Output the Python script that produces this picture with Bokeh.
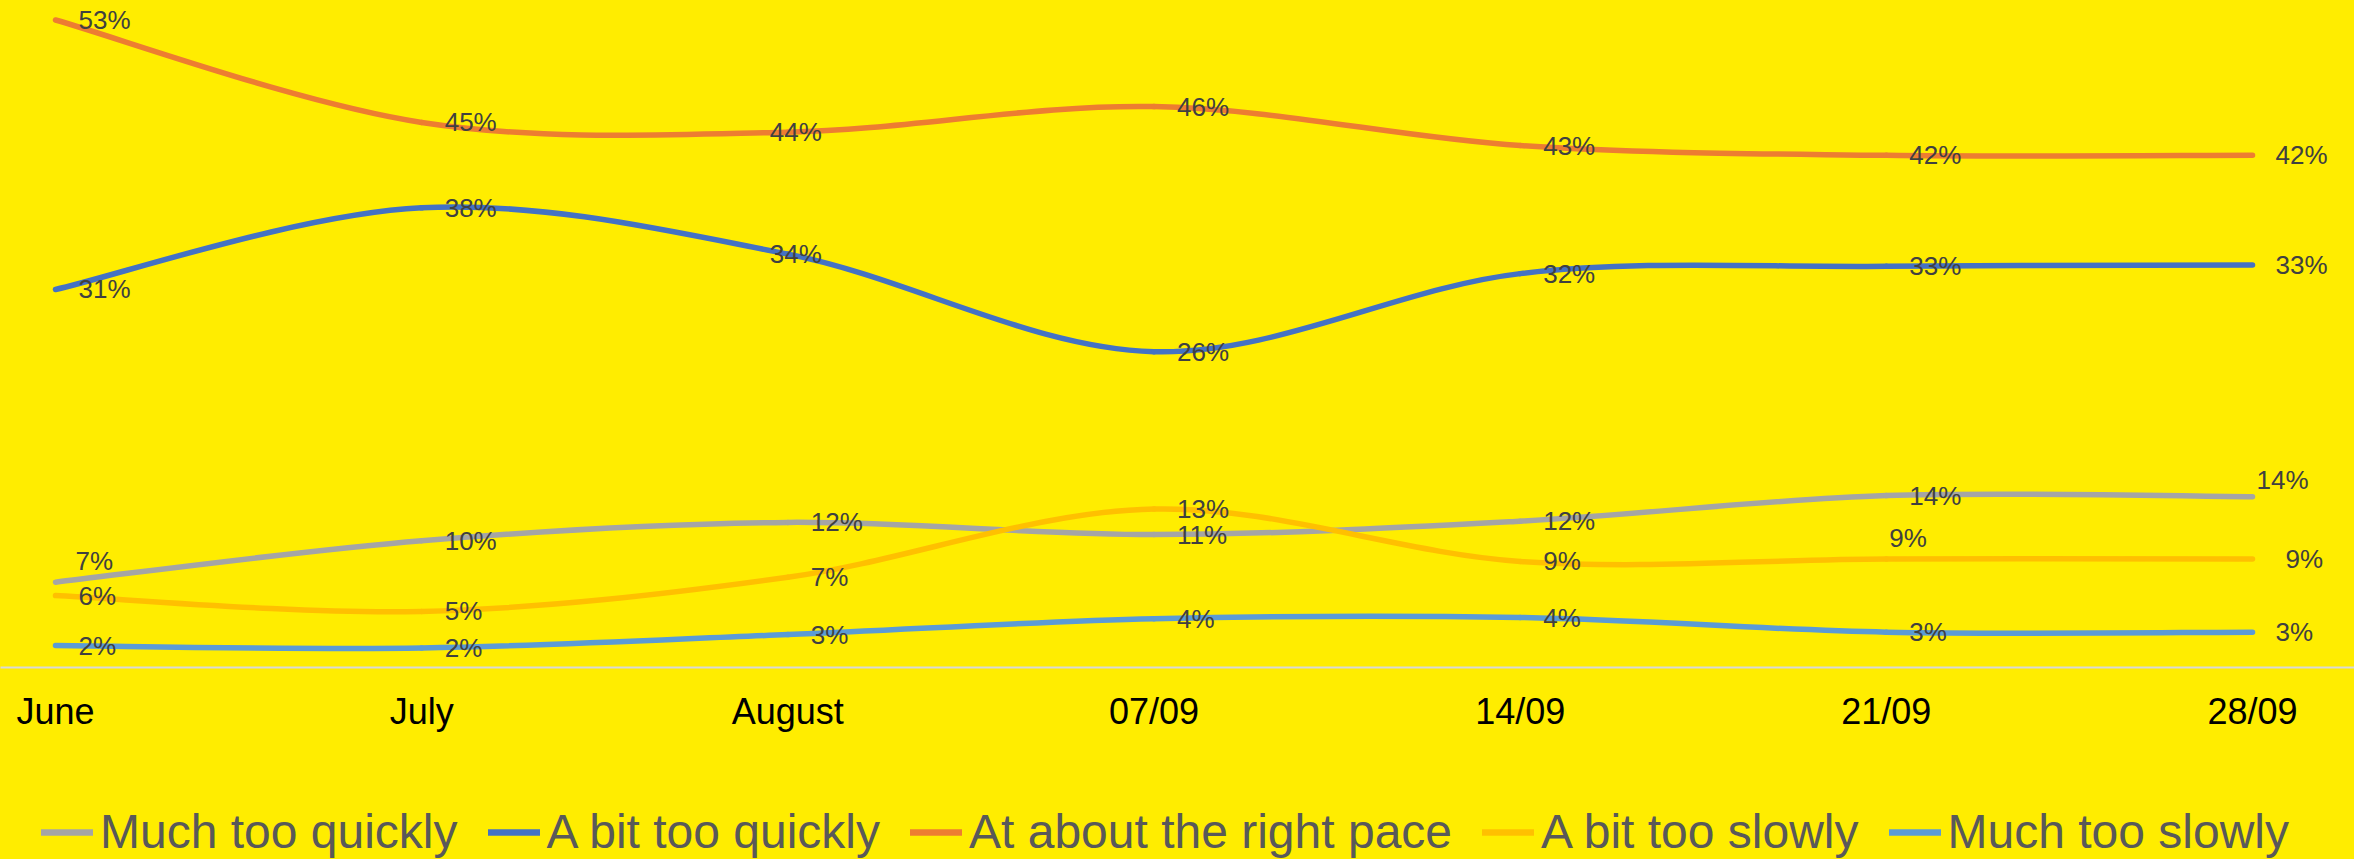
from bokeh.plotting import figure
from bokeh.layouts import column
from bokeh.models import Range1d, FixedTicker, Legend, LegendItem, ColumnDataSource
from bokeh.core.properties import value
from bokeh.embed import file_html
from bokeh.resources import INLINE

# ---------------- data ----------------
periods = ["June", "July", "August", "07/09", "14/09", "21/09", "28/09"]

much_too_quickly = [7.0, 10.4, 11.9, 10.9, 12.0, 14.1, 14.0]
a_bit_too_quickly = [31.0, 37.7, 33.9, 25.9, 32.3, 32.9, 33.0]
about_right_pace = [53.1, 44.7, 43.9, 46.0, 42.8, 42.0, 42.0]
a_bit_too_slowly = [5.9, 4.6, 7.4, 13.0, 8.7, 8.9, 8.9]
much_too_slowly = [1.8, 1.6, 2.7, 4.0, 4.1, 2.9, 2.9]

series_names = ["Much too quickly", "A bit too quickly", "At about the right pace",
                "A bit too slowly", "Much too slowly"]
series_values = [much_too_quickly, a_bit_too_quickly, about_right_pace,
                 a_bit_too_slowly, much_too_slowly]

# ---------------- style ----------------
colors = ["#A5A5A5", "#4472C4", "#ED7D31", "#FFC000", "#5B9BD5"]
BG = "#FFED00"
FONT = "Liberation Sans"
LW = 5.5

# label placement nudges (screen px) : default is right of the point
DEFAULT_NUDGE = (23, 0)
label_nudges = {
    (2, 2): (-18, 0),
    (1, 2): (-18, 0),
    (0, 0): (20, -21),
    (0, 6): (4, -17),
    (3, 5): (3, -21),
    (3, 6): (33, 0),
}

W = 2354
AXIS_H = 66
p = figure(width=W, height=668 + AXIS_H, output_backend="svg", toolbar_location=None,
           x_range=Range1d(-0.1502, 6.2785), y_range=Range1d(0, 54.7),
           y_axis_location=None,
           min_border_left=0, min_border_right=0, min_border_top=0,
           min_border_bottom=AXIS_H,
           background_fill_color=BG, border_fill_color=BG, outline_line_color=None)
p.grid.visible = False

xa = p.xaxis[0]
xa.ticker = FixedTicker(ticks=list(range(len(periods))))
xa.major_label_overrides = {i: lab for i, lab in enumerate(periods)}
xa.axis_line_color = "#D9D9D9"
xa.axis_line_width = 2
xa.major_tick_line_color = None
xa.minor_tick_line_color = None
xa.major_tick_out = 0
xa.major_tick_in = 0
xa.major_label_standoff = 23
xa.major_label_text_font = FONT
xa.major_label_text_font_size = "36px"
xa.major_label_text_color = "#000000"


def bezier_segments(ys):
    n = len(ys)
    xs = list(range(n))
    seg = dict(x0=[], y0=[], x1=[], y1=[], cx0=[], cy0=[], cx1=[], cy1=[])
    for i in range(n - 1):
        im1 = max(i - 1, 0)
        ip2 = min(i + 2, n - 1)
        seg["x0"].append(xs[i]); seg["y0"].append(ys[i])
        seg["x1"].append(xs[i + 1]); seg["y1"].append(ys[i + 1])
        seg["cx0"].append(xs[i] + (xs[i + 1] - xs[im1]) / 6)
        seg["cy0"].append(ys[i] + (ys[i + 1] - ys[im1]) / 6)
        seg["cx1"].append(xs[i + 1] - (xs[ip2] - xs[i]) / 6)
        seg["cy1"].append(ys[i + 1] - (ys[ip2] - ys[i]) / 6)
    return seg


for s, (name, vals, col) in enumerate(zip(series_names, series_values, colors)):
    src = ColumnDataSource(bezier_segments(vals))
    p.bezier(x0="x0", y0="y0", x1="x1", y1="y1", cx0="cx0", cy0="cy0",
             cx1="cx1", cy1="cy1", source=src, line_color=col, line_width=LW,
             line_cap="round")

for s, vals in enumerate(series_values):
    xo, yo = [], []
    for i in range(len(vals)):
        dx, dy = label_nudges.get((s, i), DEFAULT_NUDGE)
        xo.append(dx); yo.append(dy)
    lsrc = ColumnDataSource(dict(x=list(range(len(vals))), y=vals,
                                 t=[f"{round(v)}%" for v in vals], xo=xo, yo=yo))
    p.text(x="x", y="y", text="t", x_offset="xo", y_offset="yo", source=lsrc,
           text_font=value(FONT), text_font_size="26px", text_color="#404040",
           text_align="left", text_baseline="middle")

# ---------------- legend strip ----------------
LEG_H = 859 - (668 + AXIS_H)
pl = figure(width=W, height=LEG_H, output_backend="svg", toolbar_location=None,
            x_range=Range1d(-100, -99), y_range=Range1d(-100, -99),
            x_axis_location=None, y_axis_location=None,
            min_border_left=0, min_border_right=0, min_border_top=0, min_border_bottom=0,
            background_fill_color=BG, border_fill_color=BG, outline_line_color=None)
pl.grid.visible = False
items = []
for name, vals, col in zip(series_names, series_values, colors):
    # same series, drawn out of this strip's view: only its legend swatch shows
    r = pl.line(x=list(range(len(vals))), y=vals, line_color=col, line_width=LW + 1,
                line_cap="round")
    items.append(LegendItem(label=name, renderers=[r]))

legend = Legend(items=items, location=(41, 0), orientation="horizontal",
                padding=0, margin=0, spacing=30, label_standoff=7,
                glyph_width=52, glyph_height=20,
                label_text_font=FONT, label_text_font_size="48px",
                label_text_color="#595959",
                background_fill_alpha=0, border_line_alpha=0)
pl.add_layout(legend)

layout = column(p, pl, spacing=0, styles={"background-color": BG})
open("out.html", "w").write(file_html(layout, INLINE))
